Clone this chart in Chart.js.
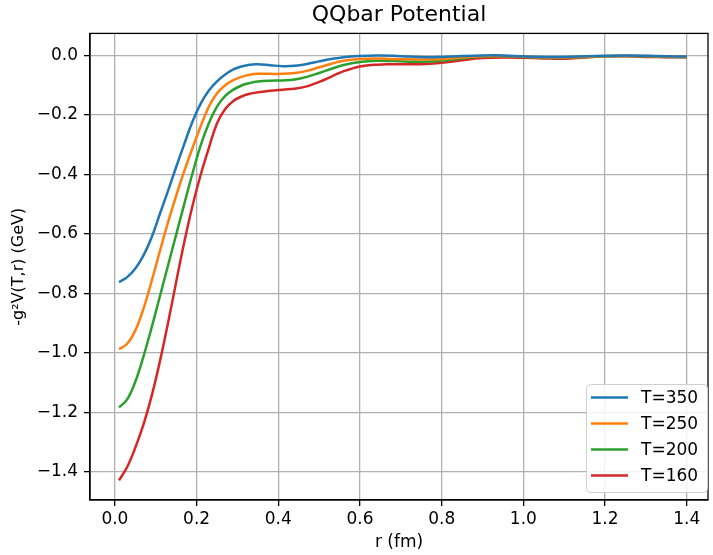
<!DOCTYPE html>
<html>
<head>
<meta charset="utf-8">
<script src="https://cdn.jsdelivr.net/npm/chart.js@4"></script>
<style>
  html, body { margin: 0; padding: 0; background: #fff; }
  #wrap { width: 713px; height: 555px; }
</style>
</head>
<body>
<div id="wrap"><canvas id="qq" width="713" height="555"></canvas></div>
<script>
// r values (fm)
const rVals = [0.01, 0.03, 0.05, 0.07, 0.09, 0.11, 0.13, 0.15, 0.17, 0.19, 0.21, 0.23, 0.25, 0.27, 0.29,
  0.31, 0.33, 0.35, 0.38, 0.41, 0.44, 0.47, 0.50, 0.53, 0.56, 0.60, 0.64, 0.68, 0.72, 0.76, 0.80,
  0.85, 0.90, 0.95, 1.00, 1.05, 1.10, 1.15, 1.20, 1.25, 1.30, 1.35, 1.40];

const t350 = [-0.762, -0.745, -0.716, -0.672, -0.611, -0.533, -0.455, -0.375, -0.297, -0.222, -0.162, -0.118, -0.087, -0.064, -0.047,
  -0.037, -0.031, -0.030, -0.033, -0.036, -0.035, -0.029, -0.020, -0.012, -0.006, -0.002, 0.000, -0.001, -0.004, -0.006, -0.005,
  -0.002, 0.000, 0.000, -0.003, -0.005, -0.005, -0.003, -0.001, 0.000, -0.001, -0.003, -0.004];

const t250 = [-0.987, -0.969, -0.924, -0.851, -0.758, -0.658, -0.561, -0.471, -0.388, -0.311, -0.238, -0.172, -0.127, -0.100, -0.083,
  -0.072, -0.065, -0.062, -0.062, -0.062, -0.059, -0.052, -0.040, -0.028, -0.018, -0.012, -0.010, -0.012, -0.013, -0.014, -0.013,
  -0.007, -0.003, -0.002, -0.004, -0.007, -0.007, -0.005, -0.002, -0.001, -0.002, -0.004, -0.005];

const t200 = [-1.183, -1.156, -1.096, -1.011, -0.914, -0.810, -0.706, -0.602, -0.498, -0.396, -0.302, -0.228, -0.172, -0.136, -0.115,
  -0.101, -0.093, -0.088, -0.085, -0.084, -0.081, -0.072, -0.059, -0.045, -0.032, -0.022, -0.018, -0.019, -0.021, -0.021, -0.018,
  -0.010, -0.004, -0.003, -0.005, -0.008, -0.008, -0.006, -0.003, -0.002, -0.003, -0.005, -0.006];

const t160 = [-1.428, -1.383, -1.318, -1.240, -1.144, -1.029, -0.899, -0.761, -0.626, -0.505, -0.401, -0.311, -0.228, -0.180, -0.153,
  -0.138, -0.129, -0.124, -0.119, -0.115, -0.112, -0.104, -0.089, -0.071, -0.053, -0.037, -0.031, -0.030, -0.030, -0.029, -0.025,
  -0.016, -0.009, -0.007, -0.008, -0.010, -0.011, -0.007, -0.003, -0.003, -0.005, -0.006, -0.006];

const seriesLabels = ["T=350", "T=250", "T=200", "T=160"];
const seriesColors = ["#1f77b4", "#ff7f0e", "#2ca02c", "#d62728"];
const xTicks = [0.0, 0.2, 0.4, 0.6, 0.8, 1.0, 1.2, 1.4];
const yTicks = [0.0, -0.2, -0.4, -0.6, -0.8, -1.0, -1.2, -1.4];

const FONT = "'DejaVu Sans', sans-serif";

function toPoints(ys) {
  return rVals.map((r, i) => ({ x: r, y: ys[i] }));
}

// frame (top/right spines) + legend inside the lower right corner
const framePlugin = {
  id: "frame",
  afterDraw(chart) {
    const ctx = chart.ctx;
    const a = chart.chartArea;
    ctx.save();
    ctx.strokeStyle = "#000";
    ctx.lineWidth = 1.3;
    ctx.strokeRect(a.left, a.top, a.right - a.left, a.bottom - a.top);

    // legend box
    const bx = 586, by = 384, bw = 121, bh = 108;
    ctx.fillStyle = "rgba(255,255,255,0.85)";
    ctx.strokeStyle = "#d0d0d0";
    ctx.lineWidth = 1;
    ctx.beginPath();
    ctx.roundRect(bx + 0.5, by + 0.5, bw, bh, 4);
    ctx.fill();
    ctx.stroke();

    ctx.font = "17px " + FONT;
    ctx.textBaseline = "middle";
    chart.data.datasets.forEach((ds, i) => {
      const cy = by + 13.5 + i * 26;
      ctx.strokeStyle = ds.borderColor;
      ctx.lineWidth = 2.5;
      ctx.beginPath();
      ctx.moveTo(591, cy);
      ctx.lineTo(628, cy);
      ctx.stroke();
      ctx.fillStyle = "#000";
      ctx.fillText(ds.label, 641, cy + 1);
    });
    ctx.restore();
  }
};

const datasets = [t350, t250, t200, t160].map((ys, i) => ({
  label: seriesLabels[i],
  data: toPoints(ys),
  borderColor: seriesColors[i],
  backgroundColor: seriesColors[i],
  borderWidth: 2.5,
  pointRadius: 0,
  tension: 0.4,
  fill: false
}));

const fmt = v => (Math.abs(v) < 1e-9 ? "0.0" : v.toFixed(1).replace("-", "\u2212"));

new Chart(document.getElementById("qq"), {
  type: "line",
  data: { datasets },
  plugins: [framePlugin],
  options: {
    responsive: false,
    animation: false,
    layout: { padding: { left: 0, right: 5, top: 0, bottom: 0 } },
    plugins: {
      legend: { display: false },
      tooltip: { enabled: false },
      title: {
        display: true,
        fullSize: false,
        text: "QQbar Potential",
        color: "#000",
        font: { family: FONT, size: 22, weight: "normal", lineHeight: 1.2 },
        padding: { top: 2, bottom: 5 }
      }
    },
    scales: {
      x: {
        type: "linear",
        min: -0.061,
        max: 1.452,
        afterBuildTicks: s => { s.ticks = xTicks.map(v => ({ value: v })); },
        afterFit: s => { s.height = 55; },
        grid: { color: "#b0b0b0", lineWidth: 1.3, tickColor: "#000", tickLength: 6, drawOnChartArea: true },
        border: { color: "#000", width: 1.3 },
        ticks: { color: "#000", font: { family: FONT, size: 17 }, padding: 3, maxRotation: 0, callback: v => fmt(v) },
        title: { display: true, text: "r (fm)", color: "#000", font: { family: FONT, size: 17 }, padding: { top: 2, bottom: 2 } }
      },
      y: {
        type: "linear",
        min: -1.494,
        max: 0.074,
        afterBuildTicks: s => { s.ticks = yTicks.map(v => ({ value: v })); },
        afterFit: s => { s.width = 90; },
        grid: { color: "#b0b0b0", lineWidth: 1.3, tickColor: "#000", tickLength: 6 },
        border: { color: "#000", width: 1.3 },
        ticks: { color: "#000", font: { family: FONT, size: 17 }, padding: 6, callback: v => fmt(v) },
        title: { display: true, text: "-g\u00b2V(T,r) (GeV)", color: "#000", font: { family: FONT, size: 16 }, padding: { top: 9, bottom: 2 } }
      }
    }
  }
});
</script>
</body>
</html>
